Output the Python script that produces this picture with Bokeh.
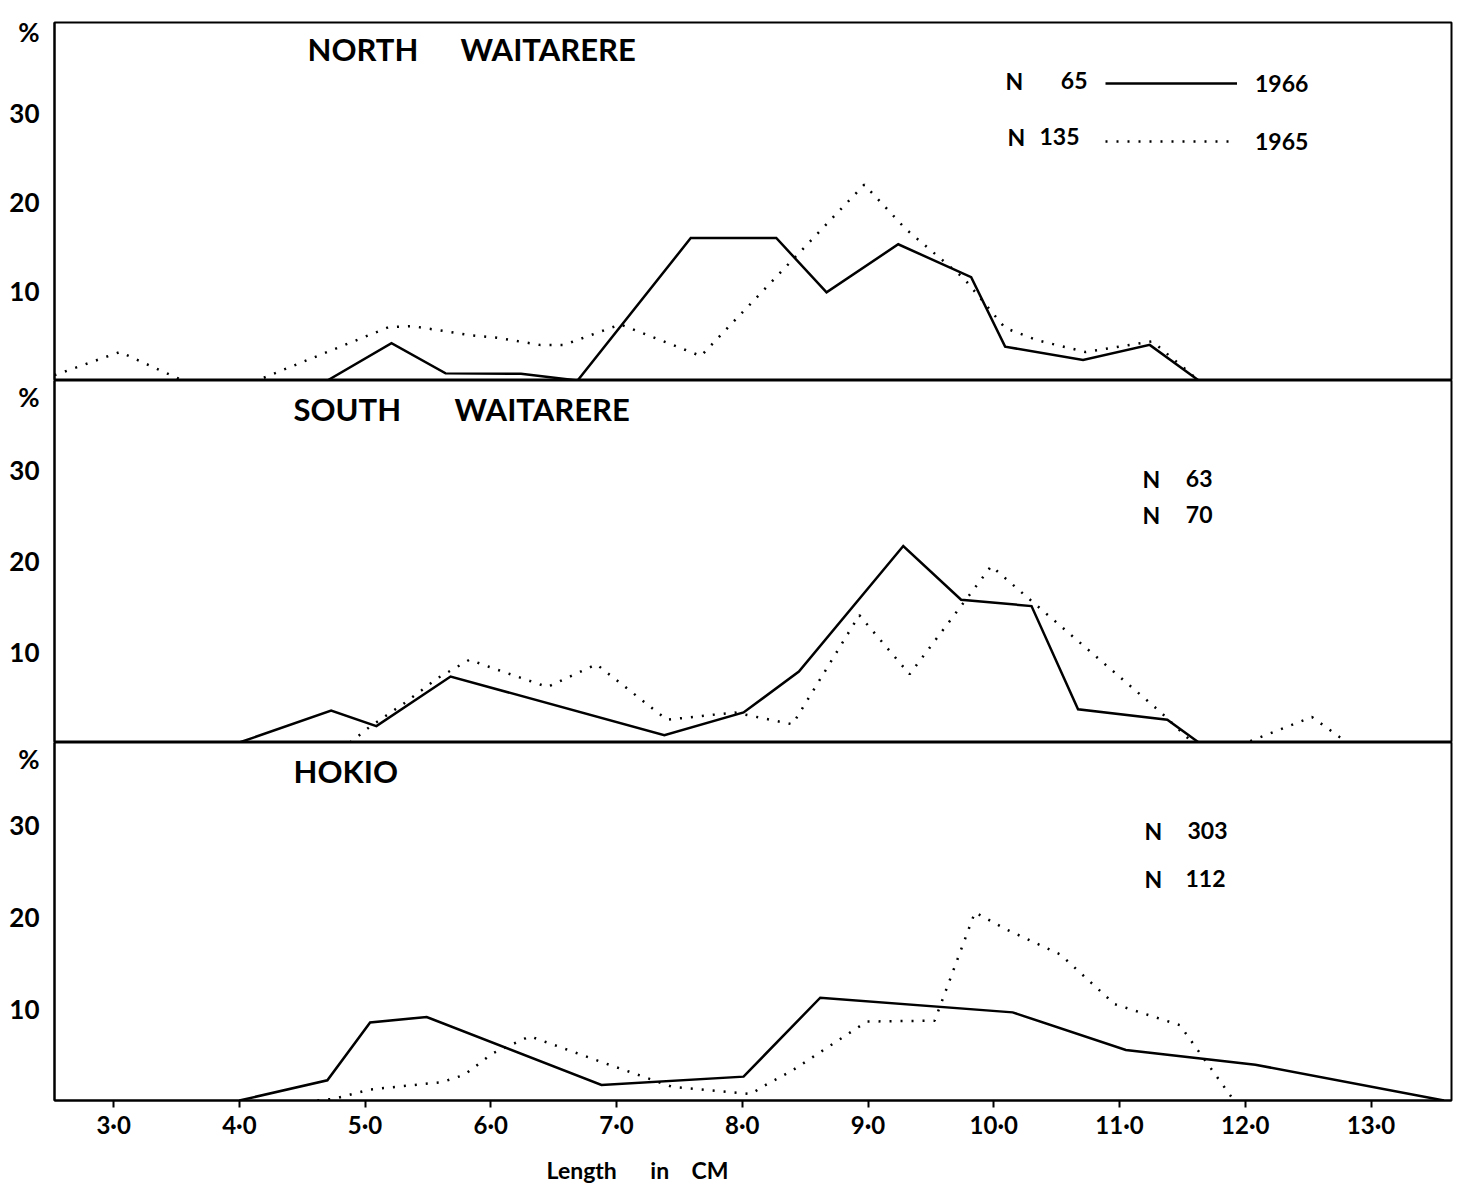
from bokeh.plotting import figure
from bokeh.models import Range1d, FixedTicker, Label, Legend, LegendItem
from bokeh.layouts import column
from bokeh.embed import file_html
from bokeh.resources import INLINE

FONT = "Lato"

# ---- data: length (cm) and percentage of sample ----
north_1966_len = [4.70, 5.21, 5.64, 6.24, 6.69, 7.59, 8.27, 8.67, 9.24, 9.82, 10.09, 10.71, 11.24, 11.63]
north_1966_pct = [0, 4.2, 0.8, 0.75, 0, 16.0, 16.0, 9.9, 15.3, 11.6, 3.8, 2.3, 4.0, 0]
north_1965_len = [2.53, 3.05, 3.55, 4.14, 5.19, 5.38, 5.83, 6.05, 6.39, 6.58, 7.03, 7.67, 8.97, 9.30,
                  9.76, 10.09, 10.35, 10.73, 11.26, 11.63]
north_1965_pct = [0.6, 3.2, 0, 0, 6.0, 6.1, 5.1, 4.8, 4.0, 4.0, 6.3, 2.75, 22.0, 17.0,
                  11.5, 5.9, 4.5, 3.2, 4.4, 0]

south_1966_len = [4.00, 4.73, 5.09, 5.68, 7.38, 8.01, 8.45, 9.28, 9.74, 10.30, 10.67, 11.38, 11.63]
south_1966_pct = [0, 3.5, 1.8, 7.25, 0.8, 3.3, 7.8, 21.6, 15.7, 15.0, 3.65, 2.5, 0]
south_1965_len = [4.88, 5.04, 5.31, 5.58, 5.83, 5.99, 6.45, 6.84, 7.40, 7.94, 8.40, 8.93, 9.33,
                  9.98, 10.28, 11.33, 11.58, 12.01, 12.53, 12.81]
south_1965_pct = [0, 1.75, 4.3, 7.1, 9.1, 8.3, 6.1, 8.6, 2.5, 3.3, 2.0, 14.0, 7.5,
                  19.4, 15.8, 3.3, 0, 0, 2.8, 0]

hokio_1966_len = [4.00, 4.70, 5.04, 5.49, 6.88, 8.01, 8.62, 10.15, 11.05, 12.08, 13.58]
hokio_1966_pct = [0, 2.2, 8.5, 9.1, 1.7, 2.6, 11.2, 9.6, 5.5, 3.9, 0]
hokio_1965_len = [4.62, 4.76, 5.04, 5.61, 5.79, 6.01, 6.31, 6.92, 7.44, 8.07, 8.16, 8.39, 8.99,
                  9.53, 9.85, 10.09, 10.53, 10.96, 11.48, 11.91]
hokio_1965_pct = [0, 0.2, 1.2, 2.0, 2.8, 5.1, 7.0, 4.0, 1.5, 0.7, 1.5, 3.2, 8.6,
                  8.7, 20.5, 18.7, 15.9, 10.5, 8.2, 0]

site_names = [["NORTH", "WAITARERE"], ["SOUTH", "WAITARERE"], ["HOKIO"]]
n_1966 = ["65", "63", "303"]
n_1965 = ["135", "70", "112"]
years = ["1966", "1965"]

x_ticks = [3, 4, 5, 6, 7, 8, 9, 10, 11, 12, 13]
x_tick_labels = ["3·0", "4·0", "5·0", "6·0", "7·0", "8·0", "9·0", "10·0", "11·0", "12·0", "13·0"]
y_ticks = [10, 20, 30]
y_tick_labels = ["10", "20", "30"]
x_label = "Length" + "\u00a0" * 6 + "in" + "\u00a0" * 4 + "CM"

x_range = Range1d(2.53, 13.64)
FRAME_W = 1397


def make_panel(frame_h, y_end, pct_pos, top_border, bottom_border, with_xaxis):
    p = figure(frame_width=FRAME_W, frame_height=frame_h, x_range=x_range,
               y_range=Range1d(0, y_end), output_backend="svg", toolbar_location=None,
               x_axis_location="below" if with_xaxis else None,
               min_border_left=54, min_border_right=5,
               min_border_top=top_border, min_border_bottom=bottom_border)
    p.grid.visible = False
    p.outline_line_color = "black"
    p.outline_line_width = 2
    p.background_fill_color = "white"
    p.border_fill_color = "white"
    ya = p.yaxis[0]
    ya.ticker = FixedTicker(ticks=y_ticks + [pct_pos])
    overrides = {t: l for t, l in zip(y_ticks, y_tick_labels)}
    overrides[pct_pos] = "%"
    ya.major_label_overrides = overrides
    ya.major_tick_line_color = None
    ya.major_tick_out = 0
    ya.major_tick_in = 0
    ya.minor_tick_line_color = None
    ya.axis_line_width = 2
    ya.axis_line_color = "black"
    ya.major_label_standoff = 15
    ya.major_label_text_font = FONT
    ya.major_label_text_font_style = "bold"
    ya.major_label_text_font_size = "26px"
    ya.major_label_text_color = "black"
    if with_xaxis:
        xa = p.xaxis[0]
        xa.ticker = FixedTicker(ticks=x_ticks)
        xa.major_label_overrides = {t: l for t, l in zip(x_ticks, x_tick_labels)}
        xa.minor_tick_line_color = None
        xa.major_tick_in = 0
        xa.major_tick_out = 7
        xa.major_tick_line_width = 2
        xa.axis_line_width = 2
        xa.major_label_standoff = 2
        xa.major_label_text_font = FONT
        xa.major_label_text_font_style = "bold"
        xa.major_label_text_font_size = "24px"
        xa.major_label_text_color = "black"
    return p


def add_lines(p, l66, v66, l65, v65):
    r1 = p.line(l66, v66, line_color="black", line_width=2.5, line_join="miter")
    r2 = p.line(l65, v65, line_color="black", line_width=2.5, line_dash="2 9")
    return r1, r2


def txt(p, x, y, s, size="23px", align="left", style="bold"):
    p.add_layout(Label(x=x, y=y, x_units="screen", y_units="screen", text=s,
                       text_font=FONT, text_font_size=size, text_font_style=style,
                       text_baseline="middle", text_align=align, text_color="black"))


# ---- top panel: North Waitarere ----
p1 = make_panel(358, 40.2, 39.1, 22, 0, False)
r1, r2 = add_lines(p1, north_1966_len, north_1966_pct, north_1965_len, north_1965_pct)
txt(p1, 253, 332, site_names[0][0], "31px")
txt(p1, 406, 332, site_names[0][1], "31px")
txt(p1, 951, 300, "N")
txt(p1, 1033, 300, n_1966[0], align="right")
txt(p1, 953, 244, "N")
txt(p1, 1025, 244, n_1965[0], align="right")
legend = Legend(items=[LegendItem(label=years[0], renderers=[r1]),
                       LegendItem(label=years[1], renderers=[r2])],
                location=(1051, 225), orientation="vertical", glyph_width=132,
                glyph_height=24, label_height=24, spacing=30, padding=0, margin=0,
                label_standoff=18, border_line_color=None, background_fill_alpha=0,
                label_text_font=FONT, label_text_font_size="23px",
                label_text_font_style="bold", label_text_color="black")
p1.add_layout(legend)

# ---- middle panel: South Waitarere ----
p2 = make_panel(362, 39.8, 38.5, 0, 0, False)
add_lines(p2, south_1966_len, south_1966_pct, south_1965_len, south_1965_pct)
txt(p2, 239, 334, site_names[1][0], "31px")
txt(p2, 400, 334, site_names[1][1], "31px")
txt(p2, 1088, 264, "N")
txt(p2, 1158, 264, n_1966[1], align="right")
txt(p2, 1088, 228, "N")
txt(p2, 1158, 228, n_1965[1], align="right")

# ---- bottom panel: Hokio ----
p3 = make_panel(358, 39.0, 37.3, 0, 40, True)
add_lines(p3, hokio_1966_len, hokio_1966_pct, hokio_1965_len, hokio_1965_pct)
txt(p3, 239, 330, site_names[2][0], "31px")
txt(p3, 1090, 270, "N")
txt(p3, 1173, 270, n_1966[2], align="right")
txt(p3, 1090, 222, "N")
txt(p3, 1171, 222, n_1965[2], align="right")

# ---- strip holding the x-axis title ----
p4 = figure(frame_width=FRAME_W, frame_height=42, x_range=x_range, y_range=Range1d(0, 1),
            output_backend="svg", toolbar_location=None, x_axis_location=None,
            y_axis_location=None, min_border_left=54, min_border_right=5,
            min_border_top=0, min_border_bottom=0)
p4.grid.visible = False
p4.outline_line_color = None
p4.border_fill_color = "white"
txt(p4, 583, 14, x_label, "23px", align="center")

layout = column(p1, p2, p3, p4, spacing=0)
open("out.html", "w").write(file_html(layout, INLINE))
